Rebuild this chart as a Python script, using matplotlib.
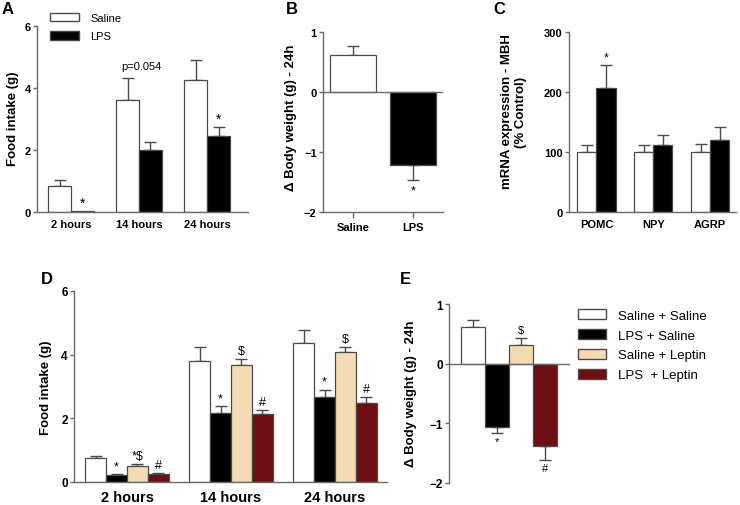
import matplotlib
matplotlib.use("Agg")
import matplotlib.pyplot as plt
from matplotlib.patches import Patch
import numpy as np

plt.rcParams['font.family'] = ['Liberation Sans', 'DejaVu Sans']

# ---------------- data ----------------
# Panel A
A_groups = ['2 hours', '14 hours', '24 hours']
A_saline = [0.84, 3.62, 4.27]
A_saline_err = [0.18, 0.70, 0.62]
A_lps = [0.02, 2.00, 2.46]
A_lps_err = [0.0, 0.25, 0.29]
A_lps_marks = ['*', '', '*']
A_note = 'p=0.054'

# Panel B
B_groups = ['Saline', 'LPS']
B_vals = [0.61, -1.22]
B_err = [0.15, 0.25]
B_marks = ['', '*']

# Panel C
C_genes = ['POMC', 'NPY', 'AGRP']
C_saline = [100, 100, 100]
C_saline_err = [12, 12, 14]
C_lps = [207, 112, 120]
C_lps_err = [38, 17, 22]
C_lps_marks = ['*', '', '']

# Panel D
D_groups = ['2 hours', '14 hours', '24 hours']
D_series = ['Saline + Saline', 'LPS + Saline', 'Saline + Leptin', 'LPS  + Leptin']
D_ss = [0.76, 3.80, 4.36]
D_ss_err = [0.07, 0.45, 0.41]
D_ls = [0.22, 2.17, 2.68]
D_ls_err = [0.03, 0.21, 0.21]
D_sl = [0.51, 3.68, 4.07]
D_sl_err = [0.05, 0.18, 0.16]
D_ll = [0.24, 2.13, 2.49]
D_ll_err = [0.03, 0.12, 0.17]
D_ss_marks = ['', '', '']
D_ls_marks = ['*', '*', '*']
D_sl_marks = ['*$', '$', '$']
D_ll_marks = ['#', '#', '#']

# Panel E
E_vals = [0.61, -1.06, 0.31, -1.38]
E_err = [0.13, 0.10, 0.12, 0.24]
E_marks = ['', '*', '$', '#']

# ---------------- style ----------------
W, H = 740, 506
SPINE = '#6a6a6a'
EDGE = '#4a4a4a'
ERR = '#4a4a4a'
COL_SAL = 'white'
COL_LPS = 'black'
COL_LEP = '#f4dbb3'
COL_LL = '#6d0f13'
D_colors = [COL_SAL, COL_LPS, COL_LEP, COL_LL]

fig = plt.figure(figsize=(W / 100, H / 100), dpi=100)


def add_ax(left, right, top, bottom):
    return fig.add_axes([left / W, 1 - bottom / H, (right - left) / W, (bottom - top) / H])


def style(ax, bottom=True):
    for s in ['top', 'right']:
        ax.spines[s].set_visible(False)
    ax.spines['left'].set_color(SPINE)
    ax.spines['left'].set_linewidth(1.0)
    ax.spines['bottom'].set_color(SPINE)
    ax.spines['bottom'].set_linewidth(1.0)
    if not bottom:
        ax.spines['bottom'].set_visible(False)
    ax.tick_params(axis='y', direction='out', length=3, width=1.0, color=SPINE, pad=1.5)
    for lab in ax.get_yticklabels() + ax.get_xticklabels():
        lab.set_fontweight('bold')


def bars(ax, x, vals, errs, color, width=1.0, marks=None, mark_off=3, fs=9):
    ax.bar(x, vals, width=width, color=color, edgecolor=EDGE, linewidth=0.9, zorder=2)
    for xi, v, e, i in zip(x, vals, errs, range(len(x))):
        if e > 0:
            if v >= 0:
                yerr = [[0], [e]]
            else:
                yerr = [[e], [0]]
            ax.errorbar([xi], [v], yerr=yerr, fmt='none', ecolor=ERR, elinewidth=1.0,
                        capsize=4.5 * width if width < 1.5 else 4.5, capthick=1.0, zorder=1)
        if marks is not None and marks[i]:
            if v >= 0:
                ax.annotate(marks[i], (xi, v + e), xytext=(0, mark_off), textcoords='offset points',
                            ha='center', va='bottom', fontsize=fs, zorder=3)
            else:
                ax.annotate(marks[i], (xi, v - e), xytext=(0, -mark_off), textcoords='offset points',
                            ha='center', va='top', fontsize=fs, zorder=3)


# ---------------- Panel A ----------------
axA = add_ax(37, 248, 27, 213)
centers = np.array([1.5, 4.5, 7.5])
bars(axA, centers - 0.5, A_saline, A_saline_err, COL_SAL)
bars(axA, centers + 0.5, A_lps, A_lps_err, COL_LPS, marks=A_lps_marks, mark_off=1, fs=10)
axA.annotate(A_note, (centers[1], A_saline[1] + A_saline_err[1]), xytext=(2, 5),
             textcoords='offset points', ha='center', va='bottom', fontsize=8)
axA.set_xlim(0, 9.3)
axA.set_ylim(0, 6)
axA.set_yticks([0, 2, 4, 6])
axA.set_xticks(centers)
axA.set_xticklabels(A_groups)
axA.tick_params(axis='x', length=0, pad=5, labelsize=8)
axA.tick_params(axis='y', labelsize=8)
style(axA)
axA.legend(handles=[Patch(facecolor=COL_SAL, edgecolor=EDGE, label='Saline'),
                    Patch(facecolor=COL_LPS, edgecolor=EDGE, label='LPS')],
           loc='upper left', bbox_to_anchor=(50 / W, 1 - 14 / H), bbox_transform=fig.transFigure,
           frameon=False, fontsize=8, handlelength=2.6, handleheight=0.75, handletextpad=1.0,
           labelspacing=0.75, borderaxespad=0, borderpad=0)

# ---------------- Panel B ----------------
axB = add_ax(323, 443, 33, 213)
xb = [0, 1.3]
bars(axB, xb, B_vals, B_err, [COL_SAL, COL_LPS], marks=B_marks, mark_off=3, fs=9)
axB.axhline(0, color=SPINE, lw=1.0, zorder=3)
axB.set_xlim(-0.66, 1.96)
axB.set_ylim(-2, 1)
axB.set_yticks([-2, -1, 0, 1])
axB.set_xticks(xb)
axB.set_xticklabels(B_groups)
axB.tick_params(axis='x', direction='out', length=4, width=1.0, color=SPINE, pad=3, labelsize=8)
axB.tick_params(axis='y', labelsize=8)
style(axB)

# ---------------- Panel C ----------------
axC = add_ax(569, 736, 33, 213)
cc = np.array([1.44, 4.42, 7.4])
bars(axC, cc - 0.5, C_saline, C_saline_err, COL_SAL)
bars(axC, cc + 0.5, C_lps, C_lps_err, COL_LPS, marks=C_lps_marks, mark_off=1, fs=9)
axC.set_xlim(0, 8.75)
axC.set_ylim(0, 300)
axC.set_yticks([0, 100, 200, 300])
axC.set_xticks(cc)
axC.set_xticklabels(C_genes)
axC.tick_params(axis='x', length=0, pad=5, labelsize=8)
axC.tick_params(axis='y', labelsize=8)
style(axC)

# ---------------- Panel D ----------------
axD = add_ax(74, 387, 292, 483)
dc = np.array([2.55, 7.55, 12.55])
offs = [-1.5, -0.5, 0.5, 1.5]
D_vals = [D_ss, D_ls, D_sl, D_ll]
D_errs = [D_ss_err, D_ls_err, D_sl_err, D_ll_err]
D_marks = [D_ss_marks, D_ls_marks, D_sl_marks, D_ll_marks]
for k in range(4):
    bars(axD, dc + offs[k], D_vals[k], D_errs[k], D_colors[k], marks=D_marks[k], mark_off=1.5, fs=9)
axD.set_xlim(0, 15.05)
axD.set_ylim(0, 6)
axD.set_yticks([0, 2, 4, 6])
axD.set_xticks(dc)
axD.set_xticklabels(D_groups)
axD.tick_params(axis='x', length=0, pad=6, labelsize=10.5)
axD.tick_params(axis='y', labelsize=8.5)
style(axD)

# ---------------- Panel E ----------------
axE = add_ax(449, 570, 305, 484)
xe = [0, 1, 2, 3]
bars(axE, xe, E_vals, E_err, D_colors, marks=E_marks, mark_off=2, fs=8)
axE.axhline(0, color=SPINE, lw=1.0, zorder=3)
axE.set_xlim(-1.0, 4.03)
axE.set_ylim(-2, 1)
axE.set_yticks([-2, -1, 0, 1])
axE.set_xticks([])
axE.tick_params(axis='y', labelsize=8.5)
style(axE, bottom=False)
axE.legend(handles=[Patch(facecolor=c, edgecolor=EDGE, label=l) for c, l in zip(D_colors, D_series)],
           loc='upper left', bbox_to_anchor=(578 / W, 1 - 310 / H), bbox_transform=fig.transFigure,
           frameon=False, fontsize=9.5, handlelength=2.1, handleheight=0.8, handletextpad=0.9,
           labelspacing=0.55, borderaxespad=0, borderpad=0)

# ---------------- labels ----------------
def ylab(x, y, s, fs=9.5, **kw):
    fig.text(x / W, 1 - y / H, s, rotation=90, ha='center', va='center', fontsize=fs,
             fontweight='bold', **kw)

ylab(13, 119, 'Food intake (g)')
ylab(291, 118, '\u0394 Body weight (g) - 24h')
ylab(514, 112, 'mRNA expression - MBH\n(% Control)', linespacing=1.3)
ylab(46, 388, 'Food intake (g)')
ylab(411, 394, '\u0394 Body weight (g) - 24h')

for s, x, y in [('A', 8, 9), ('B', 292, 9), ('C', 499, 10), ('D', 47, 280), ('E', 405, 279)]:
    fig.text(x / W, 1 - y / H, s, ha='center', va='center', fontsize=12, fontweight='bold')

fig.savefig('out.png', dpi=100)
